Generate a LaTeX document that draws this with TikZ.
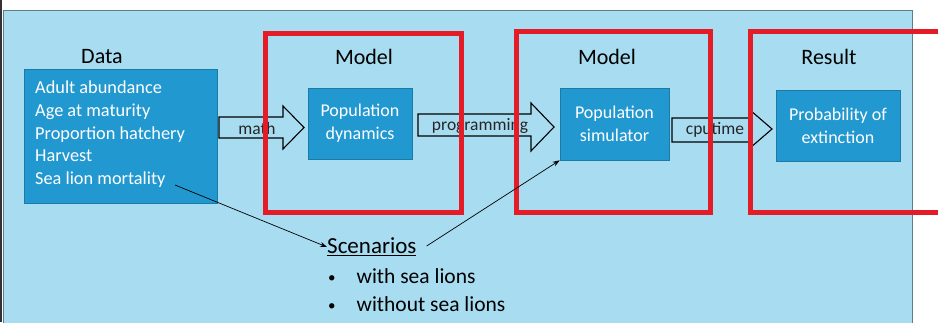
\documentclass[tikz,border=0pt]{standalone}
\usepackage{fontspec}
\setmainfont{Carlito}
\usetikzlibrary{arrows.meta}
\definecolor{panelblue}{RGB}{168,220,241}
\definecolor{boxblue}{RGB}{34,152,208}
\definecolor{framered}{RGB}{228,28,40}
\definecolor{paneledge}{RGB}{95,125,145}
\tikzset{
  bluebox/.style={fill=boxblue, draw=boxblue!80!black, line width=0.6pt, text=white, align=center, font=\fontsize{18}{23}\selectfont, inner sep=0pt},
  head/.style={font=\fontsize{22}{26}\selectfont, text=black},
  redframe/.style={draw=framered, line width=5pt},
  blockarrow/.style={fill=panelblue, draw=black, line width=1.1pt, line join=miter},
  arrowlabel/.style={font=\fontsize{17.5}{20}\selectfont, text=black!85},
  thinarrow/.style={draw=black, line width=0.7pt, -{Stealth[length=7pt,width=5pt]}}
}
\newcommand{\smallbul}{{\fontsize{15}{15}\selectfont\raisebox{1pt}{\textbullet}}}
\begin{document}
\begin{tikzpicture}[x=1pt,y=-1pt]
\useasboundingbox (0,0) rectangle (938,322);
\fill[white] (0,0) rectangle (938,322);
% panel
\fill[panelblue] (3,10) rectangle (912,330);
\draw[paneledge, line width=0.8pt] (3,330) -- (3,10) -- (912,10) -- (912,330);
\draw[black!80, line width=2pt] (1,0) -- (1,322);

% headings
\node[head] (hdata) at (102,57) {Data};
\node[head] (hmodel1) at (364,57) {Model};
\node[head] (hmodel2) at (607,57) {Model};
\node[head] (hresult) at (829,57) {Result};

% data box
\node[bluebox, minimum width=193pt, minimum height=134pt] (data) at (120.5,136) {};
\node[text=white, align=left, anchor=north west, inner sep=0pt, font=\fontsize{18.3}{22.6}\selectfont] (datatext) at (35,81) {Adult abundance\\Age at maturity\\Proportion hatchery\\Harvest\\Sea lion mortality};
\coordinate (slm) at (175,185);

% boxes
\node[bluebox, minimum width=104pt, minimum height=71pt] (popdyn) at (360,123.5) {Population\\dynamics};
\node[bluebox, minimum width=109pt, minimum height=72pt] (popsim) at (614.5,124) {Population\\simulator};
\node[bluebox, minimum width=124pt, minimum height=71pt] (prob) at (838,125.5) {Probability of\\extinction};

% block arrows
\draw[blockarrow] (219,117) -- (283,117) -- (283,106) -- (304,127.5) -- (283,149) -- (283,138) -- (219,138) -- cycle;
\node[arrowlabel] (lmath) at (257,128) {math};
\draw[blockarrow] (418,114) -- (531,114) -- (531,103) -- (554,127) -- (531,151) -- (531,136) -- (418,136) -- cycle;
\node[arrowlabel] (lprog) at (480,126) {programming};
\draw[blockarrow] (672,118) -- (750,118) -- (750,110) -- (772,129) -- (750,148) -- (750,142) -- (672,142) -- cycle;
\node[arrowlabel] (lcpu) at (715,130) {cputime};

% red frames
\draw[redframe] (265.5,33.5) rectangle (461.5,212.5);
\draw[redframe] (516.5,31.5) rectangle (710.5,212.5);
\draw[redframe] (750,31.5) rectangle (950,212.5);

% scenarios
\node[anchor=west, inner sep=0pt, font=\fontsize{23}{28}\selectfont] (scen) at (327,247) {\underline{Scenarios}};
\node[anchor=west, inner sep=0pt, font=\fontsize{21.5}{28}\selectfont] (b1) at (328,276) {\smallbul\hspace{21pt}with sea lions};
\node[anchor=west, inner sep=0pt, font=\fontsize{21.5}{28}\selectfont] (b2) at (328,304) {\smallbul\hspace{21pt}without sea lions};

% thin arrows
\draw[thinarrow] (slm) -- (scen.west);
\draw[thinarrow] (scen.east) ++(10,-1) coordinate (sfrom) (sfrom) -- (popsim.south west);
\end{tikzpicture}
\end{document}
